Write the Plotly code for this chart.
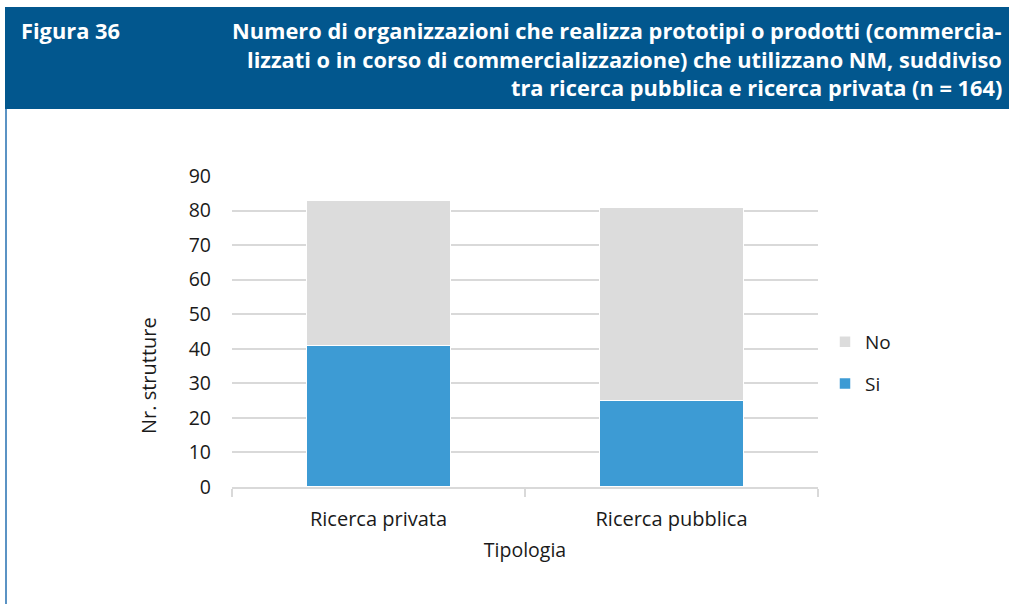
import plotly.graph_objects as go

categories = ["Ricerca privata", "Ricerca pubblica"]
si_values = [41, 25]
no_values = [42, 56]
series_names = ["Si", "No"]
y_ticks = [0, 10, 20, 30, 40, 50, 60, 70, 80, 90]

W, H = 1009, 604
L, R, T, B = 232, 818, 176, 487  # plot area in pixels


def px(x):
    return (x - L) / (R - L)


def py(y):
    return (B - y) / (B - T)


FONT = "Open Sans"
fig = go.Figure()
fig.add_trace(go.Bar(x=categories, y=si_values, name=series_names[0], legendgroup="si",
                     legendrank=2,
                     marker=dict(color="#3D9BD4", line=dict(color="white", width=1.5))))
fig.add_trace(go.Bar(x=categories, y=no_values, name=series_names[1], legendgroup="no",
                     legendrank=1,
                     marker=dict(color="#DCDCDC", line=dict(color="white", width=1.5))))

fig.update_layout(
    width=W, height=H,
    margin=dict(l=L, r=W - R, t=T, b=H - B, pad=0),
    barmode="stack", bargap=0.51,
    paper_bgcolor="white", plot_bgcolor="white",
    font=dict(family=FONT, size=20, color="#1a1a1a"),
    showlegend=True,
    legend=dict(x=px(825), y=py(363), xanchor="left", yanchor="middle",
                traceorder="grouped", tracegroupgap=14,
                font=dict(size=19, color="#1a1a1a"), itemwidth=30,
                bgcolor="rgba(0,0,0,0)"),
    xaxis=dict(showgrid=False, showline=True, linecolor="#d9d9d9", linewidth=1.5,
               ticks="outside", tickson="boundaries", ticklen=8, tickcolor="#d9d9d9",
               tickwidth=1.5, tickfont=dict(size=20), ticklabelstandoff=13,
               title=dict(text="Tipologia", font=dict(size=19.5), standoff=13)),
    yaxis=dict(range=[0, 90], tickvals=y_ticks, showgrid=True, gridcolor="#d9d9d9",
               gridwidth=1.5, zeroline=False, showline=False, ticks="",
               tickfont=dict(size=19.5), ticklabelstandoff=20),
)

# y axis title (placed like the reference, below the axis centre)
fig.add_annotation(text="Nr. strutture", xref="paper", yref="paper",
                   x=px(148), y=py(376), xanchor="center", yanchor="middle",
                   textangle=-90, showarrow=False,
                   font=dict(family=FONT, size=20, color="#1a1a1a"))

# header band
fig.add_shape(type="rect", xref="paper", yref="paper",
              x0=px(5), x1=px(1012), y0=py(7), y1=py(109),
              fillcolor="#02578E", line=dict(width=0), layer="above")
# left border line
fig.add_shape(type="line", xref="paper", yref="paper",
              x0=px(6), x1=px(6), y0=py(109), y1=py(606),
              line=dict(color="#5B93C4", width=2))

fig.add_annotation(text="<b>Figura 36</b>", xref="paper", yref="paper",
                   x=px(19), y=py(30), xanchor="left", yanchor="middle", showarrow=False,
                   font=dict(family=FONT, size=21.8, color="white"))
title_lines = [
    "Numero di organizzazioni che realizza prototipi o prodotti (commercia-",
    "lizzati o in corso di commercializzazione) che utilizzano NM, suddiviso",
    "tra ricerca pubblica e ricerca privata (n = 164)",
]
for i, line in enumerate(title_lines):
    fig.add_annotation(text="<b>" + line + "</b>", xref="paper", yref="paper",
                       x=px(1004), y=py(30 + 29 * i), xanchor="right", yanchor="middle",
                       showarrow=False, font=dict(family=FONT, size=21.8, color="white"))

fig.write_html("out.html", config={"displayModeBar": False},
               post_script="document.body.style.margin='0px';")
